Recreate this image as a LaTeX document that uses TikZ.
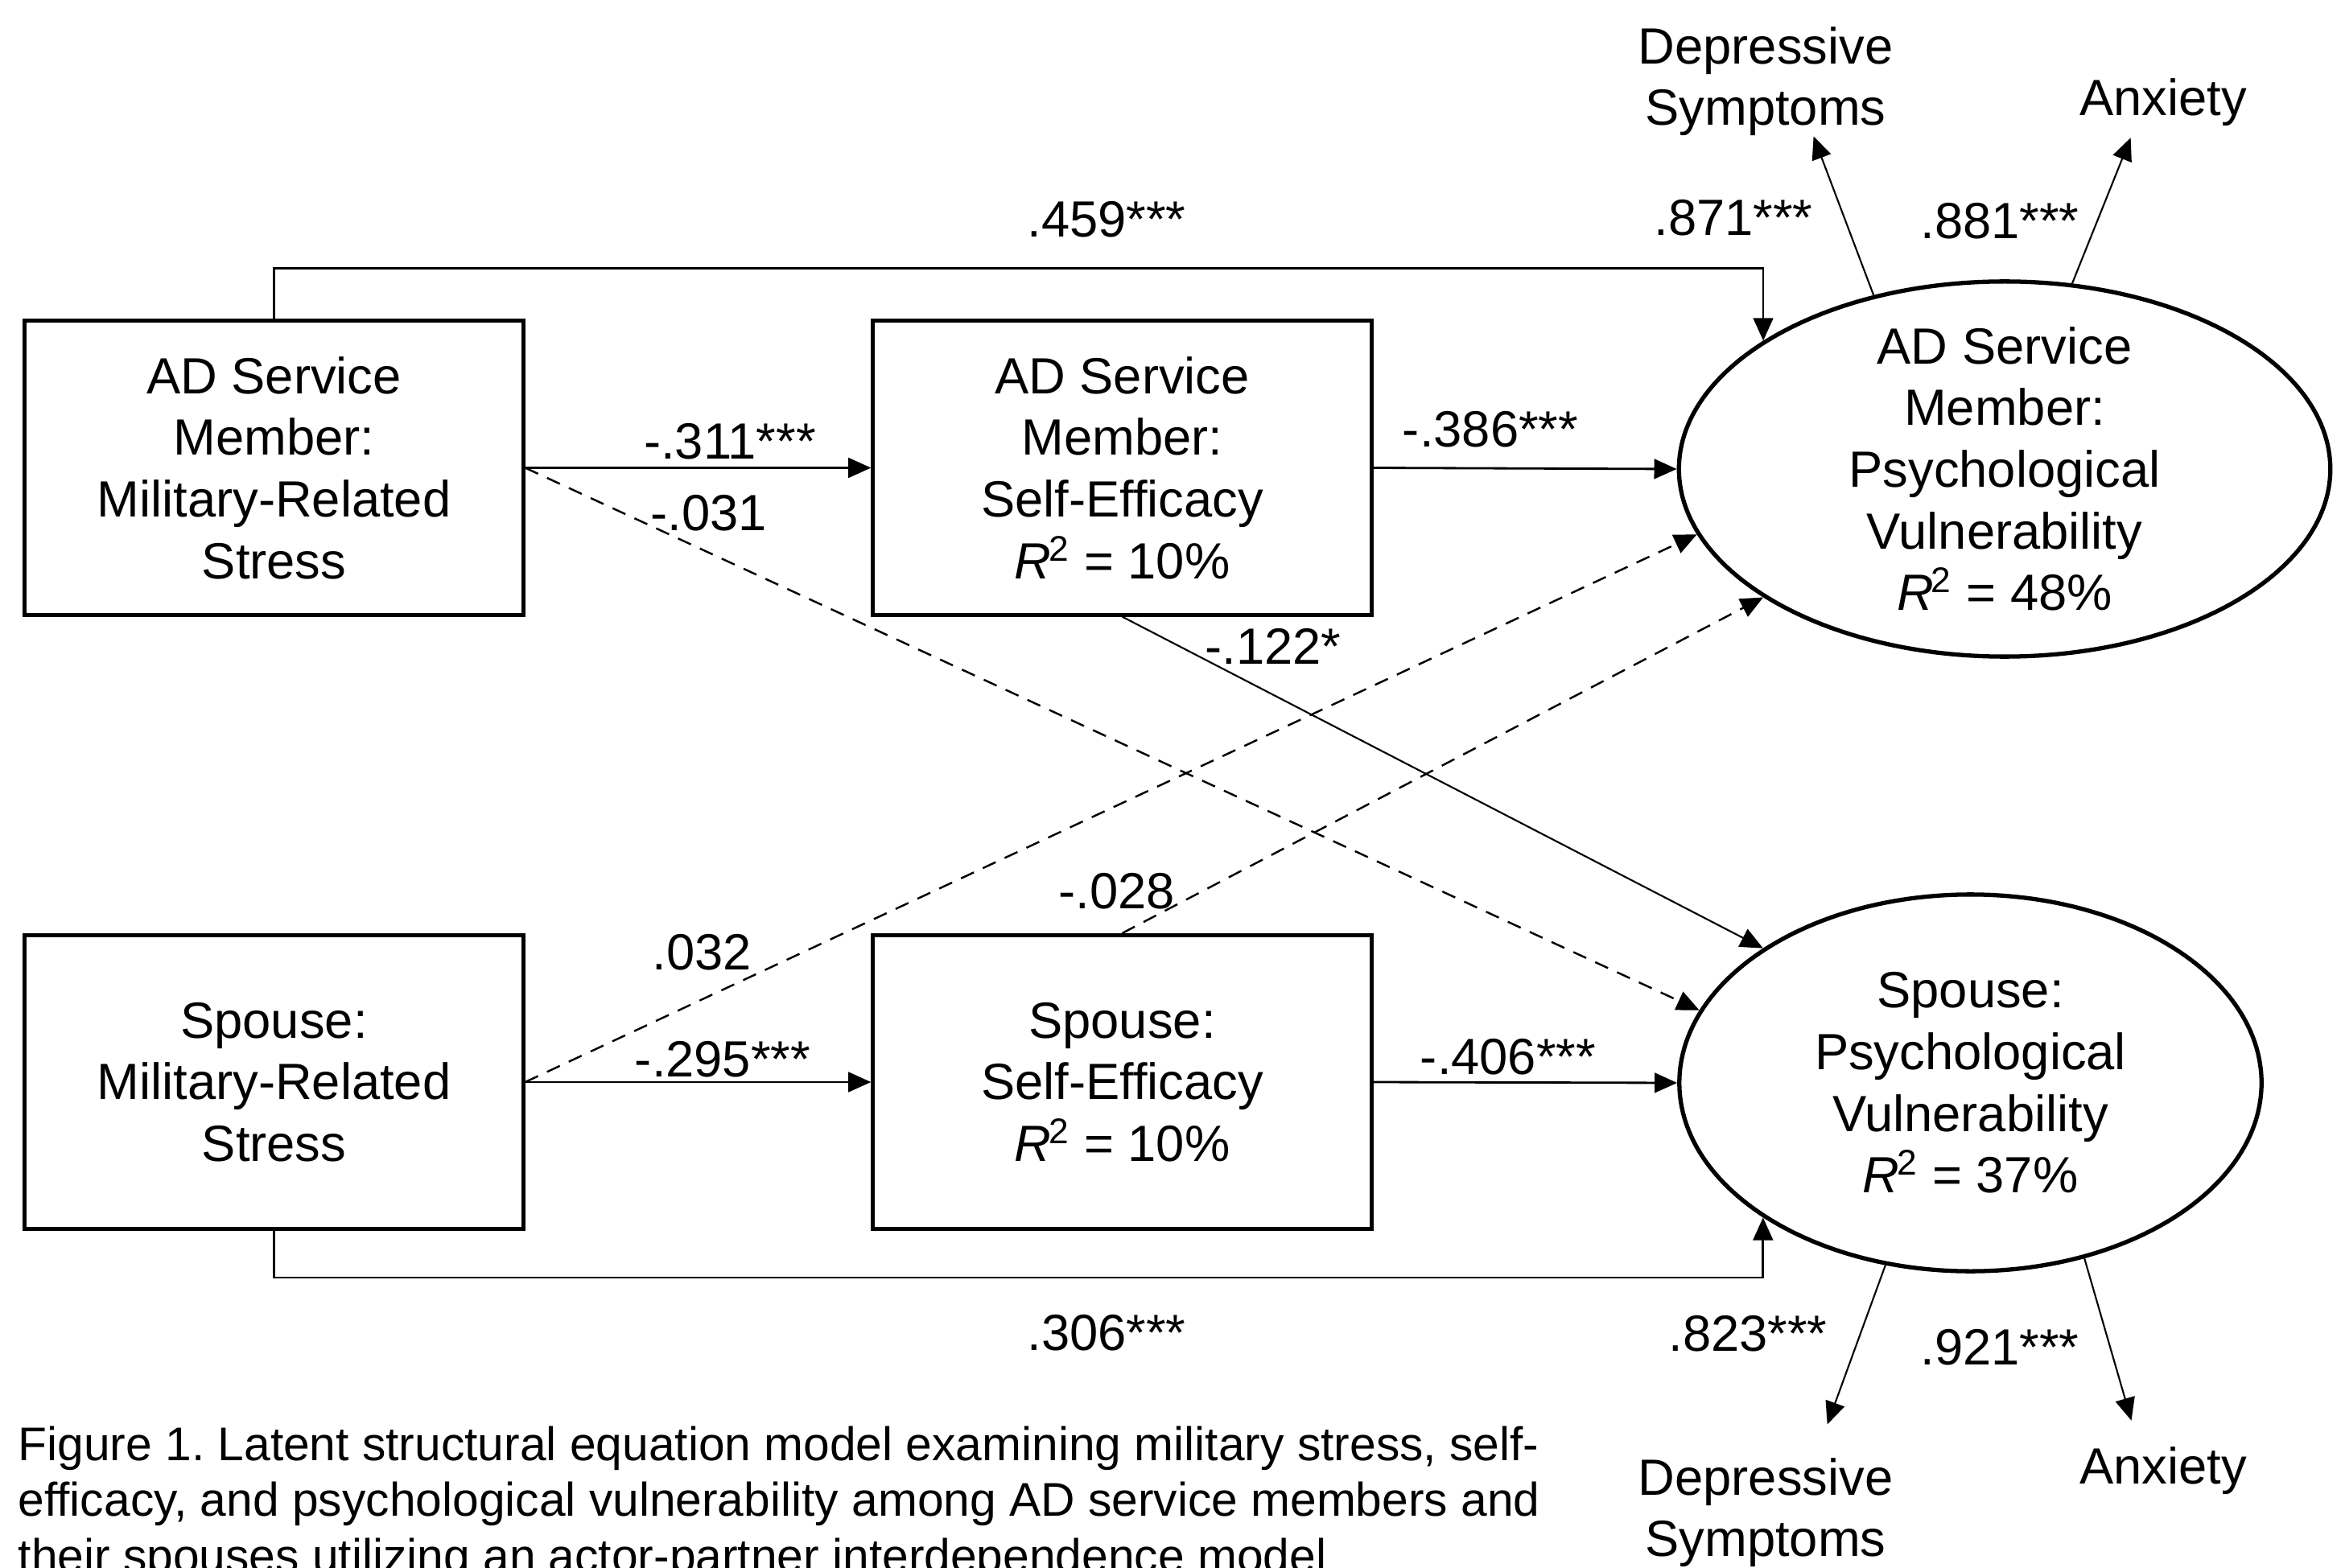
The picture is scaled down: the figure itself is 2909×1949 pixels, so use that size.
\documentclass[tikz,border=0pt]{standalone}
\usepackage{fontspec}
\setmainfont{Liberation Sans}
\usetikzlibrary{arrows.meta}
\usetikzlibrary{shapes.geometric}
\frenchspacing
\tikzset{obs/.style = {draw, line width = 1.4pt, minimum width = 6.19cm, minimum height = 3.65cm, align = center, inner sep = 0}}
\tikzset{lat/.style = {draw, ellipse, line width = 1.5pt, inner sep = 0}}
\tikzset{txt/.style = {align = center, inner sep = 0}}
\tikzset{arr/.style = {-{Triangle[length = 8pt, width = 7pt]}, line width = 0.8pt}}
\tikzset{ns/.style = {arr, line width = 0.7pt, dash pattern = on 5pt off 3.5pt}}
\tikzset{load/.style = {arr, line width = 0.6pt}}
\newcommand{\Rsq}{\textit{R}\kern-0.05em\textsuperscript{2}}

\begin{document}
\begin{tikzpicture}[x = 0.01cm, y = -0.01cm, font = \fontsize{18}{21.8}\selectfont]
    \useasboundingbox (0, 0) rectangle (2909, 1949);
    \clip (0, 0) rectangle (2909, 1949);

    \node [obs] (stA) at (340.5, 581.5) {AD Service\\Member:\\Military-Related\\Stress};
    \node [obs] (seA) at (1394.5, 581.5) {AD Service\\Member:\\Self-Efficacy\\\Rsq{} = 10\%};
    \node [obs] (stB) at (340.5, 1345) {Spouse:\\Military-Related\\Stress};
    \node [obs] (seB) at (1394.5, 1345) {Spouse:\\Self-Efficacy\\\Rsq{} = 10\%};

    \node [lat, minimum width = 8.09cm, minimum height = 4.66cm] (psyA) at (2491, 583) {};
    \node [txt] (psyAtxt) at (psyA) {AD Service\\Member:\\Psychological\\Vulnerability\\\Rsq{} = 48\%};
    \node [lat, minimum width = 7.23cm, minimum height = 4.68cm] (psyB) at (2448.5, 1346) {};
    \node [txt] (psyBtxt) at (psyB) {Spouse:\\Psychological\\Vulnerability\\\Rsq{} = 37\%};

    \node [txt] (depA) at (2194, 101) {Depressive\\Symptoms};
    \node [txt] (anxA) at (2688, 127) {Anxiety};
    \node [txt] (depB) at (2194, 1880) {Depressive\\Symptoms};
    \node [txt] (anxB) at (2688, 1828) {Anxiety};

    \node (c459) at (1375, 273) {.459***};
    \node (c306) at (1375, 1657) {.306***};
    \node (c311) at (907, 549) {-.311***};
    \node (c031) at (881, 638) {-.031};
    \node (c386) at (1852, 534) {-.386***};
    \node (c122) at (1582, 803) {-.122*};
    \node (c032) at (872, 1184) {.032};
    \node (c295) at (898, 1317) {-.295***};
    \node (c028) at (1388, 1108) {-.028};
    \node (c406) at (1874, 1314) {-.406***};
    \node (c871) at (2154, 271) {.871***};
    \node (c881) at (2485, 275) {.881***};
    \node (c823) at (2172, 1658) {.823***};
    \node (c921) at (2485, 1675) {.921***};

    \draw [arr] (stA.north) -- ++(0, -63) -| (psyA.152);
    \draw [arr] (stB.south) -- ++(0, 58) -| (psyB.-147);
    \draw [arr] (stA.east) -- (seA.west);
    \draw [arr] (seA.east) -- (psyA.west);
    \draw [arr] (stB.east) -- (seB.west);
    \draw [arr] (seB.east) -- (psyB.west);
    \draw [arr, line width = 0.6pt] (seA.south) -- (psyB.147.5);

    \draw [ns] (stA.east) -- (psyB.165.5);
    \draw [ns] (stB.east) -- (psyA.192.3);
    \draw [ns] (seB.north) -- (psyA.208.7);

    \draw [load] (psyA.127.6) -- (depA.-49);
    \draw [load, shorten >= 4.3pt] (psyA.70.2) -- (anxA.-139.8);
    \draw [load, shorten >= 12.4pt] (psyB.-115.4) -- (depB.48.2);
    \draw [load, shorten >= 9.5pt] (psyB.-57.1) -- (anxB.135.5);

    \node [anchor = north west, align = left, inner sep = 0, font = \fontsize{16.7}{19.8}\selectfont] (cap) at (22, 1772) {Figure 1. Latent structural equation model examining military stress, self-\\efficacy, and psychological vulnerability among AD service members and\\their spouses utilizing an actor-partner interdependence model};
\end{tikzpicture}
\end{document}
